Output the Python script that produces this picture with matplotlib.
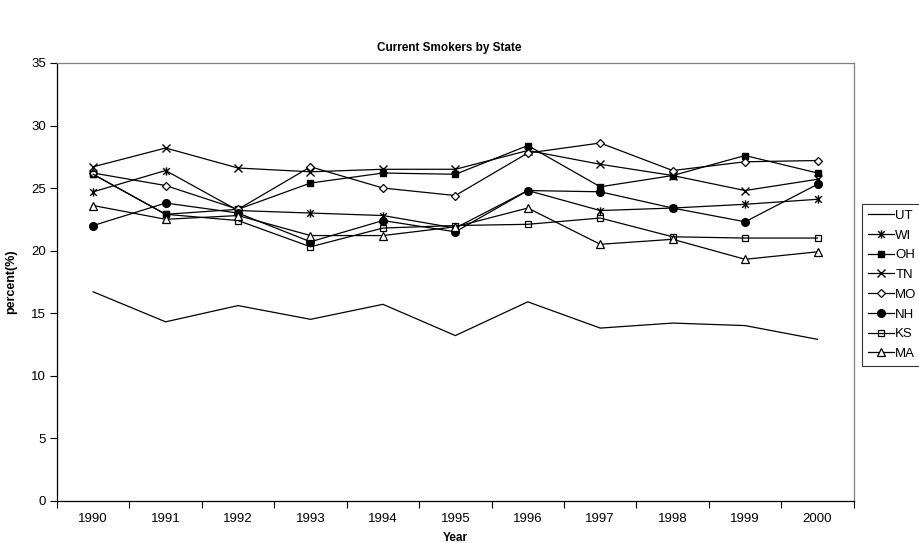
import matplotlib
matplotlib.use("Agg")
import matplotlib.pyplot as plt
from matplotlib.path import Path
from matplotlib.ticker import FixedLocator, NullFormatter

plt.rcParams['font.family'] = ['Liberation Sans', 'DejaVu Sans']

years = ['1990', '1991', '1992', '1993', '1994', '1995', '1996', '1997', '1998', '1999', '2000']

ut = [16.7, 14.3, 15.6, 14.5, 15.7, 13.2, 15.9, 13.8, 14.2, 14.0, 12.9]
wi = [24.7, 26.4, 23.2, 23.0, 22.8, 21.8, 24.8, 23.2, 23.4, 23.7, 24.1]
oh = [26.1, 22.9, 23.3, 25.4, 26.2, 26.1, 28.4, 25.1, 26.0, 27.6, 26.2]
tn = [26.7, 28.2, 26.6, 26.3, 26.5, 26.5, 28.0, 26.9, 26.0, 24.8, 25.7]
mo = [26.2, 25.2, 23.3, 26.7, 25.0, 24.4, 27.8, 28.6, 26.4, 27.1, 27.2]
nh = [22.0, 23.8, 23.0, 20.7, 22.4, 21.5, 24.8, 24.7, 23.4, 22.3, 25.3]
ks = [26.1, 22.9, 22.4, 20.3, 21.8, 22.0, 22.1, 22.6, 21.1, 21.0, 21.0]
ma = [23.6, 22.5, 22.8, 21.2, 21.2, 21.9, 23.4, 20.5, 20.9, 19.3, 19.9]

states = ['UT', 'WI', 'OH', 'TN', 'MO', 'NH', 'KS', 'MA']
series = [ut, wi, oh, tn, mo, nh, ks, ma]

# asterisk marker: an x with a vertical stroke through it
star_path = Path(
    [(-1, -1), (1, 1), (-1, 1), (1, -1), (0, -1.25), (0, 1.25)],
    [Path.MOVETO, Path.LINETO, Path.MOVETO, Path.LINETO, Path.MOVETO, Path.LINETO],
)

styles = {
    'UT': dict(marker=None),
    'WI': dict(marker=star_path, markersize=6, markerfacecolor='none', markeredgewidth=1.0),
    'OH': dict(marker='s', markersize=5, markerfacecolor='black'),
    'TN': dict(marker='x', markersize=5.5, markeredgewidth=1.0),
    'MO': dict(marker='D', markersize=4.2, markerfacecolor='white', markeredgewidth=0.9),
    'NH': dict(marker='o', markersize=5.5, markerfacecolor='black'),
    'KS': dict(marker='s', markersize=5, markerfacecolor='none', markeredgewidth=0.9),
    'MA': dict(marker='^', markersize=5.5, markerfacecolor='white', markeredgewidth=0.9),
}

fig = plt.figure(figsize=(9.19, 5.43), dpi=100)
ax = fig.add_axes([0.062, 0.078, 0.867, 0.806])

x = list(range(len(years)))
for name, vals in zip(states, series):
    ax.plot(x, vals, color='black', linewidth=0.9, markeredgecolor='black',
            label=name, **styles[name])

ax.set_xlim(-0.5, len(years) - 0.5)
ax.set_ylim(0, 35)
ax.set_yticks(range(0, 36, 5))
ax.tick_params(axis='y', direction='out', length=5, width=0.8, labelsize=9.5, pad=3)

ax.set_xticks(x)
ax.set_xticklabels(years)
ax.tick_params(axis='x', which='major', length=0, labelsize=9.5, pad=9)
ax.xaxis.set_minor_locator(FixedLocator([i - 0.5 for i in range(len(years) + 1)]))
ax.xaxis.set_minor_formatter(NullFormatter())
ax.tick_params(axis='x', which='minor', direction='out', length=5, width=0.8)

for side in ('top', 'right'):
    ax.spines[side].set_color('#808080')
    ax.spines[side].set_linewidth(0.9)
for side in ('left', 'bottom'):
    ax.spines[side].set_color('black')
    ax.spines[side].set_linewidth(0.9)

fig.text(0.489, 0.912, 'Current Smokers by State', ha='center', va='center',
         fontsize=8.5, fontweight='bold')
ax.set_ylabel('percent(%)', fontsize=9, fontweight='bold', labelpad=10)
ax.set_xlabel('Year', fontsize=8.5, fontweight='bold', labelpad=5)

leg = fig.legend(loc='upper left', bbox_to_anchor=(862 / 919, 1 - 204 / 543),
                 frameon=True, fancybox=False, fontsize=9.5, handlelength=2.0,
                 handletextpad=0.1, labelspacing=0.57, borderpad=0.42,
                 borderaxespad=0)
leg.get_frame().set_edgecolor('black')
leg.get_frame().set_linewidth(0.8)

fig.savefig('out.png', dpi=100)
